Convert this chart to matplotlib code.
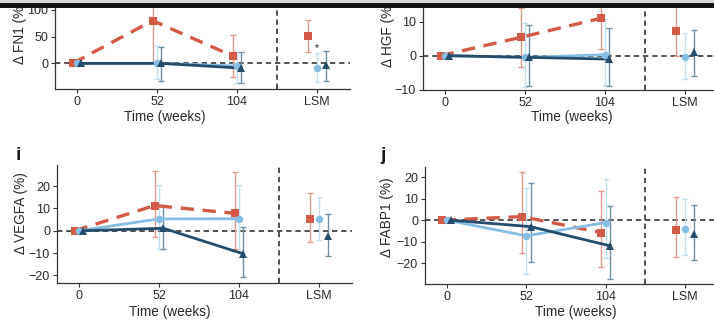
import numpy as np
import matplotlib
matplotlib.use("Agg")
import matplotlib.pyplot as plt
from matplotlib.patches import Rectangle

plt.rcParams['font.family'] = ['Liberation Sans', 'DejaVu Sans']

# x categories: three visits plus the LSM estimate
time_labels = ["0", "52", "104", "LSM"]
nan = np.nan

# FN1 (% change): mean, lower and upper CI limit per group
fn1_red = [0, 80, 14, 52]
fn1_red_lo = [nan, 0, -25, 22]
fn1_red_hi = [nan, 160, 54, 81]
fn1_light = [0, 0, -5, -9]
fn1_light_lo = [nan, -30, -37, -34]
fn1_light_hi = [nan, 32, 22, 19]
fn1_dark = [0, 0, -9, -3]
fn1_dark_lo = [nan, -33, -37, -33]
fn1_dark_hi = [nan, 30, 22, 24]

# HGF
hgf_red = [0, 5.4, 11, 7.2]
hgf_red_lo = [nan, -3.2, 2, -0.2]
hgf_red_hi = [nan, 14, 20, 14.6]
hgf_light = [0, -0.5, 0.3, -0.3]
hgf_light_lo = [nan, -9.3, -8.5, -7]
hgf_light_hi = [nan, 9.7, 10.8, 6.8]
hgf_dark = [0, -0.5, -1, 1]
hgf_dark_lo = [nan, -9, -9, -6]
hgf_dark_hi = [nan, 9, 8.3, 7.6]

# VEGFA
vegfa_red = [0, 11.3, 7.8, 5.3]
vegfa_red_lo = [nan, -2.7, -8, -5]
vegfa_red_hi = [nan, 27, 26.2, 16.8]
vegfa_light = [0, 5.3, 5.4, 5.3]
vegfa_light_lo = [nan, -8, -9, -4.2]
vegfa_light_hi = [nan, 20.5, 20.5, 15.2]
vegfa_dark = [0, 1.1, -10.4, -2.2]
vegfa_dark_lo = [nan, -8.4, -20.6, -11.2]
vegfa_dark_hi = [nan, 11.5, 1.5, 7.5]

# FABP1
fabp1_red = [0, 1.7, -5.8, -4.5]
fabp1_red_lo = [nan, -15.4, -22, -17.3]
fabp1_red_hi = [nan, 22.7, 13.8, 10.7]
fabp1_light = [0, -7.3, -1.1, -4.2]
fabp1_light_lo = [nan, -25, -17.8, -16.2]
fabp1_light_hi = [nan, 15.2, 19.2, 9.8]
fabp1_dark = [0, -3, -12, -6.5]
fabp1_dark_lo = [nan, -19.3, -27.6, -18.6]
fabp1_dark_hi = [nan, 17.3, 6.7, 7.1]

RED = "#d35a47"
RED_BAR = "#e39a8c"
LIGHT = "#86bde2"
LIGHT_BAR = "#c3e0f2"
DARK = "#234d6b"
DARK_BAR = "#6f8fa5"

W, H = 714, 320
fig = plt.figure(figsize=(W / 100, H / 100), dpi=100)
fig.patch.set_facecolor("white")


def fx(px):
    return px / W


def fy(py):
    return 1 - py / H


def add_axes(left, right, top, bottom):
    return fig.add_axes([fx(left), fy(bottom), (right - left) / W, (bottom - top) / H])


def draw_panel(ax, groups, ylim, yticks):
    pos = np.arange(1, 5, dtype=float)
    dodge_t = 0.055
    dodge_l = 0.115
    ax.axhline(0, color="#222222", lw=1.1, ls=(0, (3.5, 2.5)), zorder=1)
    ax.axvline(3.5, color="#222222", lw=1.1, ls=(0, (3.5, 2.5)), zorder=1)
    for k, (mean, lo, hi, col, bar_col, marker, ms, ls) in enumerate(groups):
        off = np.array([(k - 1) * dodge_t] * 3 + [(k - 1) * dodge_l])
        x = pos + off
        mean = np.asarray(mean, float)
        lo = np.asarray(lo, float)
        hi = np.asarray(hi, float)
        ok = ~np.isnan(lo)
        ax.errorbar(x[ok], mean[ok], yerr=[mean[ok] - lo[ok], hi[ok] - mean[ok]],
                    fmt="none", ecolor=bar_col, elinewidth=1.0, capsize=2.2,
                    capthick=1.0, zorder=2)
        if ls == "dashed":
            ax.plot(x[:3], mean[:3], color=col, lw=2.4, ls=(0, (4, 2.6)),
                    zorder=3, solid_capstyle="butt")
        else:
            ax.plot(x[:3], mean[:3], color=col, lw=2.0, zorder=3)
        ax.plot(x, mean, ls="none", marker=marker, ms=ms, color=col,
                markeredgewidth=0, zorder=4)
    ax.set_xlim(0.725, 4.4125)
    ax.set_ylim(*ylim)
    ax.set_yticks(yticks)
    ax.set_yticklabels([("\u2212" + str(abs(t))) if t < 0 else str(t) for t in yticks])
    ax.set_xticks(pos)
    ax.set_xticklabels(time_labels)
    for s in ["top", "right"]:
        ax.spines[s].set_visible(False)
    for s in ["left", "bottom"]:
        ax.spines[s].set_color("#333333")
        ax.spines[s].set_linewidth(0.9)
    ax.tick_params(direction="out", length=3, width=0.8, color="#333333",
                   labelsize=9, labelcolor="#2a2a2a", pad=2)
    ax.set_facecolor("none")


def groups_for(r, rl, rh, l, ll, lh, d, dl, dh):
    return [
        (r, rl, rh, RED, RED_BAR, "s", 5.4, "dashed"),
        (l, ll, lh, LIGHT, LIGHT_BAR, "o", 5.4, "solid"),
        (d, dl, dh, DARK, DARK_BAR, "^", 6.4, "solid"),
    ]


ax1 = add_axes(55, 350, 0, 89)
draw_panel(ax1, groups_for(fn1_red, fn1_red_lo, fn1_red_hi, fn1_light, fn1_light_lo,
                           fn1_light_hi, fn1_dark, fn1_dark_lo, fn1_dark_hi),
           (-48, 118.6), [0, 50, 100])
ax1.text(4.0, 20, "*", ha="center", va="bottom", fontsize=7.5, color="#222222")

ax2 = add_axes(423, 718, 0, 90)
draw_panel(ax2, groups_for(hgf_red, hgf_red_lo, hgf_red_hi, hgf_light, hgf_light_lo,
                           hgf_light_hi, hgf_dark, hgf_dark_lo, hgf_dark_hi),
           (-10.1, 16.4), [-10, 0, 10])

ax3 = add_axes(57, 352, 165, 283.3)
draw_panel(ax3, groups_for(vegfa_red, vegfa_red_lo, vegfa_red_hi, vegfa_light,
                           vegfa_light_lo, vegfa_light_hi, vegfa_dark, vegfa_dark_lo,
                           vegfa_dark_hi),
           (-23.6, 29.5), [-20, -10, 0, 10, 20])

ax4 = add_axes(425, 718, 166.7, 284)
draw_panel(ax4, groups_for(fabp1_red, fabp1_red_lo, fabp1_red_hi, fabp1_light,
                           fabp1_light_lo, fabp1_light_hi, fabp1_dark, fabp1_dark_lo,
                           fabp1_dark_hi),
           (-29.8, 25), [-20, -10, 0, 10, 20])

# axis titles
txt = dict(fontsize=9.8, color="#2a2a2a")
fig.text(fx(165), fy(117), "Time (weeks)", ha="center", va="center", **txt)
fig.text(fx(572), fy(117), "Time (weeks)", ha="center", va="center", **txt)
fig.text(fx(170), fy(312), "Time (weeks)", ha="center", va="center", **txt)
fig.text(fx(576), fy(312), "Time (weeks)", ha="center", va="center", **txt)

fig.text(fx(20), fy(64), "\u0394 FN1 (%)", rotation=90, ha="center", va="bottom", **txt)
fig.text(fx(388), fy(1), "\u0394 HGF (%)", rotation=90, ha="center", va="top", **txt)
fig.text(fx(21), fy(213), "\u0394 VEGFA (%)", rotation=90, ha="center", va="center", **txt)
fig.text(fx(387), fy(217), "\u0394 FABP1 (%)", rotation=90, ha="center", va="center", **txt)

# panel letters
fig.text(fx(18), fy(155), "i", fontsize=14, fontweight="bold", ha="center",
         va="center", color="#1a1a1a")
fig.text(fx(383), fy(156), "j", fontsize=14, fontweight="bold", ha="center",
         va="center", color="#1a1a1a")

# page edge at the top
fig.patches.append(Rectangle((0, fy(2.5)), 1, 2.5 / H, transform=fig.transFigure,
                             facecolor="#d8d8d8", edgecolor="none", zorder=10))
fig.patches.append(Rectangle((0, fy(7.5)), 1, 5 / H, transform=fig.transFigure,
                             facecolor="#111111", edgecolor="none", zorder=10))

fig.savefig("out.png", dpi=100, facecolor="white")
